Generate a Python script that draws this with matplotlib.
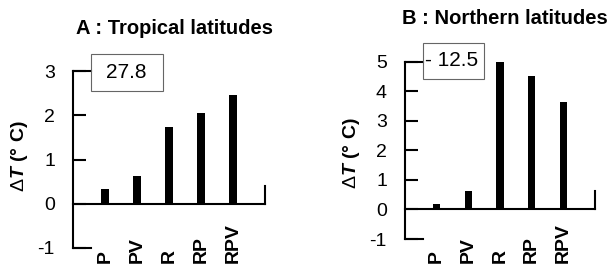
import matplotlib.pyplot as plt
from matplotlib.patches import Rectangle
from matplotlib.transforms import blended_transform_factory

plt.rcParams['font.family'] = ['Liberation Sans', 'DejaVu Sans']
plt.rcParams['axes.unicode_minus'] = False
plt.rcParams['mathtext.fontset'] = 'custom'
plt.rcParams['mathtext.rm'] = 'Liberation Sans'
plt.rcParams['mathtext.bf'] = 'Liberation Sans:bold'
plt.rcParams['mathtext.it'] = 'Liberation Sans:bold:italic'

runs = ["P", "PV", "R", "RP", "RPV"]
tropical = [0.33, 0.62, 1.73, 2.05, 2.45]
northern = [0.2, 0.62, 5.0, 4.53, 3.65]
titles = ["A : Tropical latitudes", "B : Northern latitudes"]
box_texts = ["27.8", "- 12.5"]
ylims = [(-1, 3), (-1, 5)]

W, H = 613, 266
fig = plt.figure(figsize=(W / 100, H / 100), dpi=100)


def fx(px):
    return px / W


def fy(py):
    return 1 - py / H


# pixel layout: left, right(end), y of top, y of -1
layout = [(73, 265, 71, 248), (405, 595, 61.7, 239)]
boxes = [(91, 54, 163, 91), (423, 43, 484, 79)]
box_text_x = [126, 452]
title_pos = [(174, 29), (505, 18)]
ylab_pos = [(19, 156), (351, 153)]

for k, vals in enumerate([tropical, northern]):
    left, right, top, bot = layout[k]
    ax = fig.add_axes([fx(left), fy(bot), fx(right - left), (bot - top) / H])
    x = list(range(1, len(vals) + 1))
    ax.bar(x, vals, width=0.24, color='black')
    lo, hi = ylims[k]
    ax.set_xlim(0, len(vals) + 1)
    ax.set_ylim(lo, hi)
    for s in ['top', 'right', 'bottom']:
        ax.spines[s].set_visible(False)
    ax.spines['left'].set_linewidth(1.5)
    ax.set_xticks([])
    ax.set_yticks(range(lo, hi + 1))
    ax.tick_params(axis='y', direction='in', length=9, width=1.5, pad=13,
                   labelsize=14)
    ppu = (bot - top) / (hi - lo)
    ext = 18 / 32
    end_h = 18 / ppu
    lw = 1.5
    ax.plot([0, len(vals) + 1], [0, 0], color='black', lw=lw, clip_on=False)
    ax.plot([len(vals) + 1] * 2, [0, end_h], color='black', lw=lw, clip_on=False)
    ax.plot([0, ext], [lo, lo], color='black', lw=lw, clip_on=False)
    ax.plot([0, ext], [hi, hi], color='black', lw=lw, clip_on=False)

    # bottom labels, rotated and bottom aligned
    tr = blended_transform_factory(ax.transData, fig.transFigure)
    for xi, lab in zip(x, runs):
        ax.text(xi, fy(263), lab, rotation=90, ha='center', va='bottom',
                fontsize=14, fontweight='bold', transform=tr)

    bx0, by0, bx1, by1 = boxes[k]
    fig.patches.append(Rectangle((fx(bx0), fy(by1)), fx(bx1 - bx0), (by1 - by0) / H,
                                 transform=fig.transFigure, fill=False,
                                 edgecolor='#666666', lw=0.8))
    fig.text(fx(box_text_x[k]), fy((by0 + by1) / 2), box_texts[k],
             ha='center', va='center', fontsize=15)

    tx, ty = title_pos[k]
    fig.text(fx(tx), fy(ty), titles[k], ha='center', va='center',
             fontsize=14.5, fontweight='bold')
    lx, ly = ylab_pos[k]
    fig.text(fx(lx), fy(ly), r'$\Delta \mathit{T}$ (° C)', rotation=90,
             ha='center', va='center', fontsize=14, fontweight='bold')

fig.savefig('out.png', dpi=100)
